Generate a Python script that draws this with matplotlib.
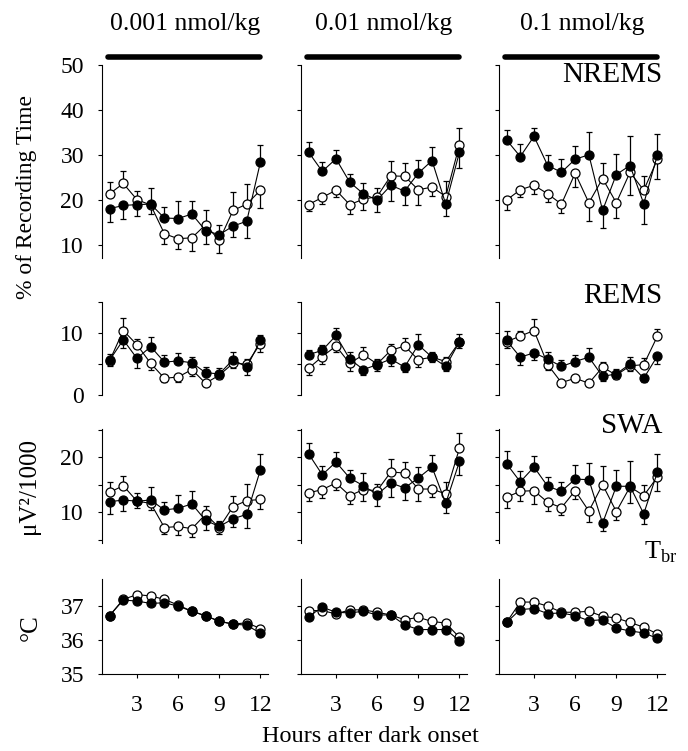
import numpy as np
import matplotlib
matplotlib.use("Agg")
import matplotlib.pyplot as plt

plt.rcParams['font.family'] = ['Liberation Serif', 'DejaVu Serif']
plt.rcParams['mathtext.fontset'] = 'custom'
plt.rcParams['mathtext.rm'] = 'Liberation Serif'

hours = list(range(1, 13))
doses = ["0.001 nmol/kg", "0.01 nmol/kg", "0.1 nmol/kg"]

# NREMS, % of recording time
nrems_filled_001 = [18.0, 18.7, 18.9, 19.0, 15.9, 15.8, 16.8, 13.1, 12.2, 14.1, 15.2, 28.4]
nrems_filled_err_001 = [3.0, 3.0, 2.5, 3.5, 2.5, 3.8, 3.0, 3.0, 2.2, 2.5, 3.7, 3.7]
nrems_open_001 = [21.3, 23.6, 20.0, 18.8, 12.4, 11.3, 11.5, 14.4, 10.9, 17.6, 19.0, 22.1]
nrems_open_err_001 = [2.6, 2.7, 2.0, 2.0, 2.3, 2.3, 3.0, 3.2, 2.8, 4.0, 4.5, 4.0]

nrems_filled_01 = [30.6, 26.3, 29.1, 23.9, 21.3, 19.9, 23.2, 21.9, 25.9, 28.7, 19.0, 30.6]
nrems_filled_err_01 = [2.3, 2.0, 2.0, 1.8, 2.5, 2.6, 3.5, 3.0, 3.0, 3.0, 2.6, 3.5]
nrems_open_01 = [18.9, 20.5, 22.1, 18.9, 20.1, 20.7, 25.3, 25.2, 22.2, 22.8, 20.7, 32.2]
nrems_open_err_01 = [1.5, 1.5, 1.5, 2.0, 2.5, 1.8, 3.3, 3.0, 3.5, 2.0, 3.5, 3.7]

nrems_filled_1 = [33.3, 29.6, 34.1, 27.6, 26.1, 29.0, 30.0, 17.6, 25.6, 27.6, 19.1, 30.0]
nrems_filled_err_1 = [2.3, 2.8, 1.8, 2.4, 3.0, 3.0, 5.0, 4.0, 4.5, 6.5, 4.5, 4.6]
nrems_open_1 = [19.9, 22.2, 23.2, 21.3, 19.0, 25.9, 19.3, 24.7, 19.3, 26.1, 22.1, 29.0]
nrems_open_err_1 = [2.3, 1.5, 2.0, 1.8, 2.0, 3.0, 4.0, 3.5, 3.3, 5.0, 3.2, 4.3]

# REMS, % of recording time
rems_filled_001 = [5.6, 8.9, 5.9, 7.8, 5.3, 5.5, 5.2, 3.6, 3.4, 5.7, 4.5, 8.8]
rems_filled_err_001 = [1.0, 1.3, 1.5, 1.5, 1.2, 1.3, 0.9, 0.9, 0.9, 1.2, 1.2, 0.9]
rems_open_001 = [5.5, 10.4, 8.1, 5.1, 2.7, 2.9, 4.1, 1.9, 3.2, 5.1, 5.0, 8.3]
rems_open_err_001 = [0.8, 2.0, 1.0, 1.0, 0.6, 0.8, 1.0, 0.5, 0.6, 0.8, 0.8, 1.3]

rems_filled_01 = [6.5, 7.2, 9.6, 5.8, 4.1, 4.9, 5.8, 4.5, 8.1, 6.1, 4.6, 8.6]
rems_filled_err_01 = [0.7, 0.8, 1.2, 1.2, 0.8, 1.0, 1.1, 0.8, 1.8, 0.8, 0.8, 1.2]
rems_open_01 = [4.3, 6.2, 7.9, 5.1, 6.5, 5.0, 7.2, 7.9, 5.7, 6.1, 5.4, 8.6]
rems_open_err_01 = [1.0, 1.2, 1.0, 1.2, 1.2, 0.8, 1.0, 1.3, 1.2, 0.8, 0.8, 1.0]

rems_filled_1 = [8.8, 6.1, 6.8, 5.8, 4.6, 5.4, 6.1, 3.0, 3.4, 5.0, 2.7, 6.3]
rems_filled_err_1 = [1.6, 1.2, 1.2, 1.2, 1.0, 1.0, 1.5, 0.8, 0.8, 1.2, 0.6, 1.3]
rems_open_1 = [8.6, 9.5, 10.4, 4.9, 2.0, 2.7, 1.9, 4.5, 3.2, 4.7, 4.9, 9.5]
rems_open_err_1 = [1.0, 0.8, 1.8, 0.8, 0.5, 0.6, 0.5, 0.8, 0.6, 0.8, 1.0, 1.2]

# SWA, uV^2/1000
swa_filled_001 = [11.9, 12.2, 12.0, 12.2, 10.4, 10.7, 11.5, 8.5, 7.4, 8.8, 9.6, 17.7]
swa_filled_err_001 = [2.2, 2.0, 1.4, 2.3, 1.5, 2.5, 2.4, 1.7, 1.0, 1.5, 2.4, 2.9]
swa_open_001 = [13.6, 14.8, 12.0, 11.6, 7.2, 7.4, 7.0, 9.6, 7.2, 11.0, 12.1, 12.3]
swa_open_err_001 = [1.8, 1.7, 1.2, 1.2, 1.2, 1.5, 1.5, 1.6, 1.2, 2.0, 3.0, 1.8]

swa_filled_01 = [20.6, 16.8, 19.1, 16.2, 14.8, 13.2, 15.3, 14.4, 16.2, 18.2, 11.6, 19.2]
swa_filled_err_01 = [2.0, 1.6, 1.8, 1.5, 2.3, 2.0, 2.5, 2.2, 2.0, 2.1, 1.7, 2.5]
swa_open_01 = [13.5, 14.1, 15.3, 13.0, 14.1, 13.9, 17.3, 17.1, 14.2, 14.2, 13.3, 21.6]
swa_open_err_01 = [1.5, 1.5, 1.2, 1.5, 2.0, 1.3, 2.3, 2.0, 2.2, 1.5, 2.2, 2.8]

swa_filled_1 = [18.8, 15.5, 18.2, 14.7, 13.8, 16.0, 15.9, 8.0, 14.7, 14.7, 9.7, 17.3]
swa_filled_err_1 = [2.3, 2.0, 2.0, 1.7, 1.7, 2.5, 3.0, 1.5, 3.0, 4.5, 1.8, 3.3]
swa_open_1 = [12.7, 13.8, 13.9, 11.8, 10.8, 13.9, 10.2, 15.0, 10.1, 14.6, 13.0, 16.4]
swa_open_err_1 = [2.0, 1.7, 2.5, 1.5, 1.4, 1.5, 2.0, 3.3, 1.6, 3.0, 2.0, 2.5]

# Tbr, deg C
tbr_filled_001 = [36.72, 37.18, 37.15, 37.08, 37.10, 37.00, 36.85, 36.71, 36.56, 36.47, 36.44, 36.20]
tbr_open_001 = [36.72, 37.20, 37.34, 37.30, 37.20, 37.03, 36.85, 36.72, 36.55, 36.47, 36.51, 36.34]
tbr_filled_01 = [36.69, 36.97, 36.82, 36.80, 36.85, 36.74, 36.74, 36.45, 36.31, 36.31, 36.31, 35.98]
tbr_open_01 = [36.87, 36.87, 36.77, 36.89, 36.89, 36.82, 36.74, 36.60, 36.67, 36.55, 36.50, 36.08]
tbr_filled_1 = [36.52, 36.90, 36.93, 36.78, 36.80, 36.72, 36.57, 36.60, 36.35, 36.27, 36.21, 36.05]
tbr_open_1 = [36.52, 37.12, 37.12, 37.00, 36.82, 36.82, 36.85, 36.70, 36.65, 36.52, 36.38, 36.18]
tbr_err = [0.06] * 12

panels = [
    [(nrems_filled_001, nrems_filled_err_001, nrems_open_001, nrems_open_err_001),
     (nrems_filled_01, nrems_filled_err_01, nrems_open_01, nrems_open_err_01),
     (nrems_filled_1, nrems_filled_err_1, nrems_open_1, nrems_open_err_1)],
    [(rems_filled_001, rems_filled_err_001, rems_open_001, rems_open_err_001),
     (rems_filled_01, rems_filled_err_01, rems_open_01, rems_open_err_01),
     (rems_filled_1, rems_filled_err_1, rems_open_1, rems_open_err_1)],
    [(swa_filled_001, swa_filled_err_001, swa_open_001, swa_open_err_001),
     (swa_filled_01, swa_filled_err_01, swa_open_01, swa_open_err_01),
     (swa_filled_1, swa_filled_err_1, swa_open_1, swa_open_err_1)],
    [(tbr_filled_001, tbr_err, tbr_open_001, tbr_err),
     (tbr_filled_01, tbr_err, tbr_open_01, tbr_err),
     (tbr_filled_1, tbr_err, tbr_open_1, tbr_err)],
]

row_names = ["NREMS", "REMS", "SWA", r"T$_{\mathrm{br}}$"]
ylims = [(7, 50), (0, 15), (4.4, 25.1), (35, 37.8)]
yticks = [[10, 20, 30, 40, 50], [0, 5, 10, 15], [5, 10, 15, 20, 25], [35, 36, 37]]
ytick_labels = [["10", "20", "30", "40", "50"], ["0", "", "10", ""],
                ["", "10", "", "20", ""], ["35", "36", "37"]]
ylabels = ["% of Recording Time", "\u03bcV\u00b2/1000", "\u00b0C"]

W, H = 688, 751
fig = plt.figure(figsize=(W / 100, H / 100), dpi=100)

col_left = [102, 301, 499]
col_width = 166
row_span = [(65, 258), (302, 395), (429, 543), (579, 674)]


def one_sided(ax, x, y, err, up):
    # SEM drawn only on the side away from the other curve
    y = np.array(y)
    err = np.array(err)
    end = np.where(up, y + err, y - err)
    ax.vlines(x, y, end, color='k', lw=0.9, zorder=2)
    ax.hlines(end, np.array(x) - 0.22, np.array(x) + 0.22, color='k', lw=0.9, zorder=2)


for r in range(4):
    top, bot = row_span[r]
    for c in range(3):
        ax = fig.add_axes([col_left[c] / W, (H - bot) / H, col_width / W, (bot - top) / H])
        filled, ferr, opened, oerr = panels[r][c]
        f = np.array(filled)
        o = np.array(opened)
        one_sided(ax, hours, o, oerr, o > f)
        ax.plot(hours, o, '-o', color='k', lw=0.8, ms=6.5, mfc='white', mec='k', mew=0.9, zorder=3)
        one_sided(ax, hours, f, ferr, f >= o)
        ax.plot(hours, f, '-o', color='k', lw=0.8, ms=6.5, mfc='k', mec='k', mew=0.9, zorder=4)

        ax.set_xlim(0.45, 12.55)
        ax.set_ylim(*ylims[r])
        ax.spines['top'].set_visible(False)
        ax.spines['right'].set_visible(False)
        ax.set_yticks(yticks[r])
        if c == 0:
            ax.set_yticklabels(ytick_labels[r])
        else:
            ax.set_yticklabels([])
        ax.tick_params(axis='y', direction='out', length=3, width=0.8, labelsize=17, pad=10)
        if r == 3:
            ax.set_xticks([3, 6, 9, 12])
            ax.tick_params(axis='x', direction='out', length=3, width=0.8, labelsize=17, pad=12)
        else:
            ax.spines['bottom'].set_visible(False)
            ax.set_xticks([])
        ax.patch.set_visible(False)

        if r == 0:
            ax.plot([0.9, 11.95], [1.039, 1.039], transform=ax.get_xaxis_transform(),
                    color='k', lw=4, solid_capstyle='round', clip_on=False)

# dose titles
for c, d in enumerate(doses):
    fig.text((col_left[c] + 83) / W, 1 - 24 / H, d, ha='center', va='center', fontsize=18.5)

# row labels on the right
label_y = [75, 296, 426, 552]
for r, name in enumerate(row_names):
    fig.text(662 / W if r < 3 else 678 / W, 1 - label_y[r] / H, name,
             ha='right', va='center', fontsize=21 if r < 3 else 19)

fig.text(27 / W, 1 - 197 / H, ylabels[0], rotation=90, ha='center', va='center', fontsize=17)
fig.text(29 / W, 1 - 486 / H, ylabels[1], rotation=90, ha='center', va='center', fontsize=18)
fig.text(31 / W, 1 - 628 / H, ylabels[2], rotation=90, ha='center', va='center', fontsize=18)
fig.text(370 / W, 1 - 737 / H, "Hours after dark onset", ha='center', va='center', fontsize=17.5)

fig.savefig("out.png", dpi=100)
